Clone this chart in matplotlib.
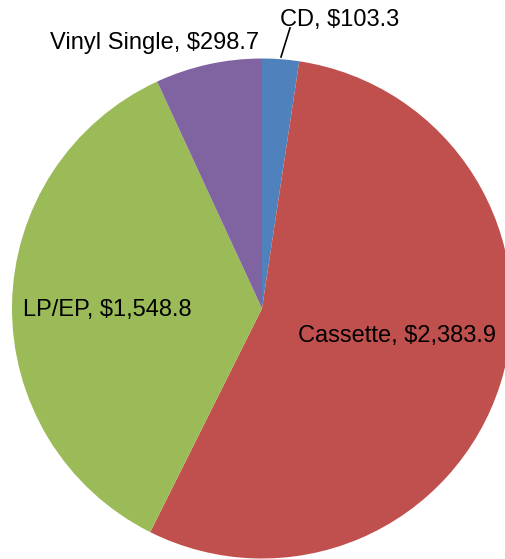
import matplotlib.pyplot as plt

labels = ['CD', 'Cassette', 'LP/EP', 'Vinyl Single']
values = [103.3, 2383.9, 1548.8, 298.7]
colors = ['#4F81BD', '#C0504D', '#9BBB59', '#8064A2']

plt.rcParams['font.family'] = ['Liberation Sans', 'DejaVu Sans']

fig = plt.figure(figsize=(5.05, 5.59), dpi=100)
# pie runs off the right and bottom edge in the original
W, H = 505, 559
cx, cy, r = 262, 308.5, 250
ax = fig.add_axes([(cx - r) / W, (H - cy - r) / H, 2 * r / W, 2 * r / H])

ax.pie(values, colors=colors, startangle=90, counterclock=False, radius=1,
       wedgeprops=dict(linewidth=0))
ax.set_xlim(-1, 1)
ax.set_ylim(-1, 1)
ax.axis('off')

def px(x, y):
    return (x - cx) / r, (cy - y) / r

label_pos = [px(340, 20), px(397, 336), px(107, 310), px(155, 43)]
for name, v, pos in zip(labels, values, label_pos):
    ax.text(pos[0], pos[1], f'{name}, ${v:,.1f}', ha='center', va='center',
            fontsize=17, color='black')

# leader line for the small CD slice
x0, y0 = px(281, 57)
x1, y1 = px(290, 28)
ax.plot([x0, x1], [y0, y1], color='black', linewidth=1.2, clip_on=False)

fig.savefig('out.png', dpi=100)
